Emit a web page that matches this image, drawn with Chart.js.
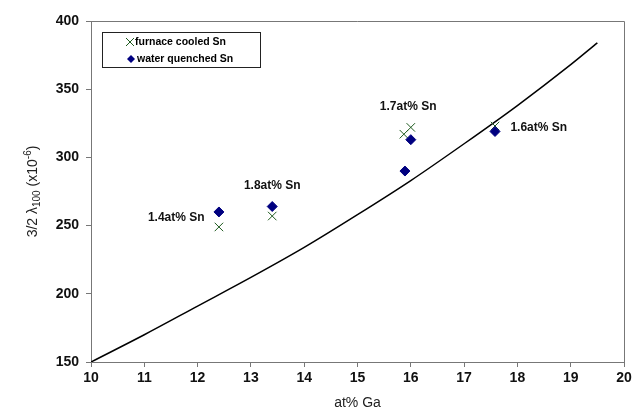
<!DOCTYPE html>
<html lang="en">

<head>
    <meta charset="UTF-8">
    <title>Magnetostriction vs Ga content</title>
    <style>
        body {
            margin: 0;
            background-color: #fff;
        }
    </style>
</head>

<body>
    <canvas id="lambda-chart" width="644" height="417"></canvas>
    <script src="https://cdn.jsdelivr.net/npm/chart.js"></script>
    <script>
    // fitted curve
    const curveGa = [10, 11, 12, 13, 14, 15, 16, 17, 18, 19, 19.5];
    const curveLambda = [150, 170, 191, 212, 234, 258, 283, 310, 338, 368, 384];

    // furnace cooled Sn (crosses)
    const furnaceGa = [12.4, 13.4, 15.87, 16.0, 17.58];
    const furnaceLambda = [249, 257, 317, 322, 323];

    // water quenched Sn (diamonds)
    const waterGa = [12.4, 13.4, 15.89, 16.0, 17.58];
    const waterLambda = [260, 264, 290, 313, 319];

    // Sn content labels, anchored in data units
    const snLabels = ['1.4at% Sn', '1.8at% Sn', '1.7at% Sn', '1.6at% Sn'];
    const snLabelGa = [11.6, 13.4, 15.95, 18.4];
    const snLabelLambda = [256, 279, 337, 322];

    const xTicks = [10, 11, 12, 13, 14, 15, 16, 17, 18, 19, 20];
    const yTicks = [150, 200, 250, 300, 350, 400];

    const toPoints = (xs, ys) => xs.map((x, i) => ({ x: x, y: ys[i] }));

    const axisColor = '#777';
    const fontFamily = '"Liberation Sans", Arial, sans-serif';

    const decorations = {
        id: 'decorations',
        afterDraw(chart) {
            const ctx = chart.ctx;
            const area = chart.chartArea;
            const xs = chart.scales.x;
            const ys = chart.scales.y;
            ctx.save();

            // top and right frame lines
            ctx.strokeStyle = axisColor;
            ctx.lineWidth = 1;
            ctx.beginPath();
            ctx.moveTo(area.left, area.top + 0.5);
            ctx.lineTo(area.right + 0.5, area.top + 0.5);
            ctx.lineTo(area.right + 0.5, area.bottom);
            ctx.stroke();

            // Sn annotations
            ctx.fillStyle = '#111';
            ctx.font = 'bold 12px ' + fontFamily;
            ctx.textAlign = 'center';
            ctx.textBaseline = 'middle';
            snLabels.forEach((t, i) => {
                ctx.fillText(t, xs.getPixelForValue(snLabelGa[i]), ys.getPixelForValue(snLabelLambda[i]));
            });

            // legend box
            const lx = 102, ly = 32, lw = 158, lh = 35;
            ctx.fillStyle = '#fff';
            ctx.fillRect(lx, ly, lw, lh);
            ctx.strokeStyle = '#222';
            ctx.strokeRect(lx + 0.5, ly + 0.5, lw, lh);

            ctx.font = 'bold 10.5px ' + fontFamily;
            ctx.textAlign = 'left';
            ctx.fillStyle = '#000';
            // cross
            ctx.strokeStyle = '#1e5a1e';
            ctx.beginPath();
            ctx.moveTo(126, 38); ctx.lineTo(134, 46);
            ctx.moveTo(134, 38); ctx.lineTo(126, 46);
            ctx.stroke();
            ctx.fillText('furnace cooled Sn', 135, 42);
            // diamond
            ctx.fillStyle = '#000080';
            ctx.beginPath();
            ctx.moveTo(131, 55); ctx.lineTo(135, 59); ctx.lineTo(131, 63); ctx.lineTo(127, 59);
            ctx.closePath();
            ctx.fill();
            ctx.fillStyle = '#000';
            ctx.fillText('water quenched Sn', 137, 59);

            // axis titles
            ctx.fillStyle = '#222';
            ctx.font = '14px ' + fontFamily;
            ctx.textAlign = 'center';
            ctx.fillText('at% Ga', (area.left + area.right) / 2, 403);

            // y title with subscript / superscript
            ctx.translate(33, (area.top + area.bottom) / 2);
            ctx.rotate(-Math.PI / 2);
            const parts = [
                { t: '3/2 \u03bb', f: '14px', dy: 0 },
                { t: '100', f: '10px', dy: 4 },
                { t: ' (x10', f: '14px', dy: 0 },
                { t: '-6', f: '10px', dy: -5 },
                { t: ')', f: '14px', dy: 0 }
            ];
            let total = 0;
            parts.forEach(p => {
                ctx.font = p.f + ' ' + fontFamily;
                p.w = ctx.measureText(p.t).width;
                total += p.w;
            });
            let cx = -total / 2;
            ctx.textAlign = 'left';
            parts.forEach(p => {
                ctx.font = p.f + ' ' + fontFamily;
                ctx.fillText(p.t, cx, p.dy);
                cx += p.w;
            });
            ctx.restore();
        }
    };

    const ctx = document.getElementById('lambda-chart').getContext('2d');
    new Chart(ctx, {
        type: 'scatter',
        data: {
            datasets: [
                {
                    label: 'water quenched Sn',
                    data: toPoints(waterGa, waterLambda),
                    pointStyle: 'rectRot',
                    pointRadius: 5,
                    backgroundColor: '#000080',
                    borderColor: '#000080',
                    order: 1
                },
                {
                    label: 'furnace cooled Sn',
                    data: toPoints(furnaceGa, furnaceLambda),
                    pointStyle: 'crossRot',
                    pointRadius: 6,
                    borderWidth: 1,
                    borderColor: '#1e5a1e',
                    backgroundColor: '#1e5a1e',
                    order: 2
                },
                {
                    label: 'fit',
                    type: 'line',
                    data: toPoints(curveGa, curveLambda),
                    borderColor: '#000',
                    borderWidth: 1.5,
                    pointRadius: 0,
                    cubicInterpolationMode: 'monotone',
                    fill: false,
                    order: 3
                }
            ]
        },
        options: {
            responsive: false,
            animation: false,
            events: [],
            layout: {
                padding: { top: 21, right: 20, left: 0, bottom: 0 }
            },
            plugins: {
                legend: { display: false },
                tooltip: { enabled: false }
            },
            scales: {
                x: {
                    type: 'linear',
                    min: 10,
                    max: 20,
                    afterFit: s => { s.height = 55; },
                    afterBuildTicks: s => { s.ticks = xTicks.map(v => ({ value: v })); },
                    grid: { drawOnChartArea: false, tickLength: 5, color: axisColor },
                    border: { color: axisColor },
                    ticks: {
                        autoSkip: false,
                        maxRotation: 0,
                        padding: 3,
                        color: '#111',
                        font: { family: fontFamily, size: 14, weight: 'bold' }
                    }
                },
                y: {
                    type: 'linear',
                    min: 150,
                    max: 400,
                    afterFit: s => { s.width = 91; },
                    afterBuildTicks: s => { s.ticks = yTicks.map(v => ({ value: v })); },
                    grid: { drawOnChartArea: false, tickLength: 5, color: axisColor },
                    border: { color: axisColor },
                    ticks: {
                        autoSkip: false,
                        padding: 7,
                        color: '#111',
                        font: { family: fontFamily, size: 14, weight: 'bold' }
                    }
                }
            }
        },
        plugins: [decorations]
    });
    </script>
</body>

</html>
